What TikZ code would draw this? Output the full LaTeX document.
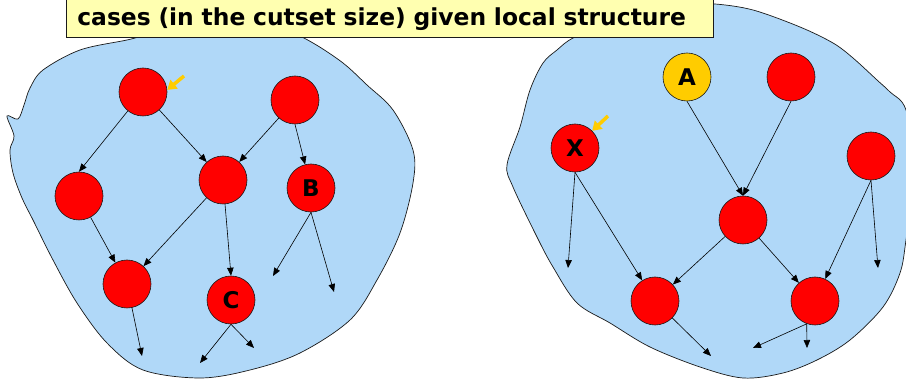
\documentclass[tikz,border=0pt]{standalone}
\usepackage{fontspec}
\setmainfont{DejaVu Sans}
\usetikzlibrary{arrows.meta}
\definecolor{sky}{HTML}{B0D8F8}
\definecolor{redball}{HTML}{FF0000}
\definecolor{gold}{HTML}{FFCC00}
\definecolor{note}{HTML}{FFFFB0}
\definecolor{ink}{HTML}{1A1A1A}
\tikzset{
  blob/.style={draw=ink, fill=sky, line width=0.7pt},
  var/.style={circle, draw=ink, fill=redball, line width=0.6pt, minimum size=48pt,
              inner sep=0pt, font=\fontsize{23pt}{23pt}\selectfont\bfseries},
  obsvar/.style={var, fill=gold},
  link/.style={-{Triangle[length=8pt,width=6.5pt]}, draw=black, line width=0.6pt},
  pick/.style={-{Triangle[length=9pt,width=11pt]}, draw=gold, line width=3.5pt},
  titlebox/.style={rectangle, draw=ink, fill=note, line width=0.7pt, anchor=north west,
                   minimum height=38pt, inner xsep=11pt, inner ysep=0pt, text width=625pt,
                   text height=19pt, text depth=4pt,
                   align=left, font=\fontsize{23.4pt}{26pt}\selectfont\bfseries}
}

\begin{document}
\begin{tikzpicture}[x=1pt,y=-1pt]
\useasboundingbox (0,0) rectangle (906,379);
\clip (0,0) rectangle (906,379);

% the two network regions
\draw[blob] plot[smooth cycle, tension=0.55] coordinates {
  (200,31) (153,34) (127,40) (80,50) (43,70) (30,88) (24,105) (18,119) (7,116) (14,136)
  (10,150) (13,173) (22,198) (33,220) (53,260) (77,303) (107,343) (143,370) (200,378)
  (250,370) (300,353) (350,320) (377,280) (400,233) (413,183) (413,150) (393,110)
  (367,85) (343,63) (313,43) (290,33) (250,29)};
\draw[blob] plot[smooth cycle, tension=0.55] coordinates {
  (690,5) (715,4) (753,10) (800,27) (833,43) (853,58) (877,80) (890,92) (906,110)
  (915,170) (906,240) (900,273) (883,307) (850,340) (817,360) (783,373) (743,378)
  (700,367) (650,347) (610,323) (577,303) (553,267) (537,237) (513,187) (507,165)
  (520,127) (530,90) (543,63) (557,50) (573,38) (610,22) (650,11)};

\node[titlebox] (title) at (66,-1) {cases (in the cutset size) given local structure};

% left network
\node[var] (l1) at (143,92) {};
\node[var] (l2) at (295,100) {};
\node[var] (l3) at (79,196) {};
\node[var] (l4) at (223,180) {};
\node[var] (lB) at (311,188) {B};
\node[var] (l6) at (127,284) {};
\node[var] (lC) at (231,300) {C};
\coordinate (lb1) at (273,276);
\coordinate (lb2) at (334,292);
\coordinate (l61) at (142,356);
\coordinate (lc1) at (200,363);
\coordinate (lc2) at (254,348);
\coordinate (mk1) at (184,76);

\draw[link] (l1) -- (l3.north);
\draw[link] (l1) -- (l4);
\draw[link] (l2) -- (l4);
\draw[link] (l2.south) -- (lB);
\draw[link] (l3) -- (l6);
\draw[link] (l4) -- (l6);
\draw[link] (l4) -- (lC.north);
\draw[link] (lB.south) -- (lb1);
\draw[link] (lB.south) -- (lb2);
\draw[link] (l6) -- (l61);
\draw[link] (lC.south) -- (lc1);
\draw[link] (lC.south) -- (lc2);
\draw[pick] (mk1) -- (l1.5);

% right network
\node[obsvar] (rA) at (687,77) {A};
\node[var] (r2) at (791,77) {};
\node[var] (rX) at (575,148) {X};
\node[var] (r4) at (871,156) {};
\node[var] (r5) at (743,220) {};
\node[var] (r6) at (655,301) {};
\node[var] (r7) at (815,301) {};
\coordinate (rx1) at (568,268);
\coordinate (rq1) at (878,268);
\coordinate (r61) at (711,356);
\coordinate (r71) at (753,348);
\coordinate (r72) at (807,348);
\coordinate (mk2) at (608,116);

\draw[link] (rA.south) -- (r5.north);
\draw[link] (r2.south) -- (r5.north);
\draw[link] (rX.south) -- (rx1);
\draw[link] (rX.south) -- (r6);
\draw[link] (r5) -- (r6);
\draw[link] (r5) -- (r7);
\draw[link] (r4.south) -- (r7);
\draw[link] (r4.south) -- (rq1);
\draw[link] (r6) -- (r61);
\draw[link] (r7.250) -- (r71);
\draw[link] (r7.250) -- (r72);
\draw[pick] (mk2) -- (rX.45);
\end{tikzpicture}
\end{document}
